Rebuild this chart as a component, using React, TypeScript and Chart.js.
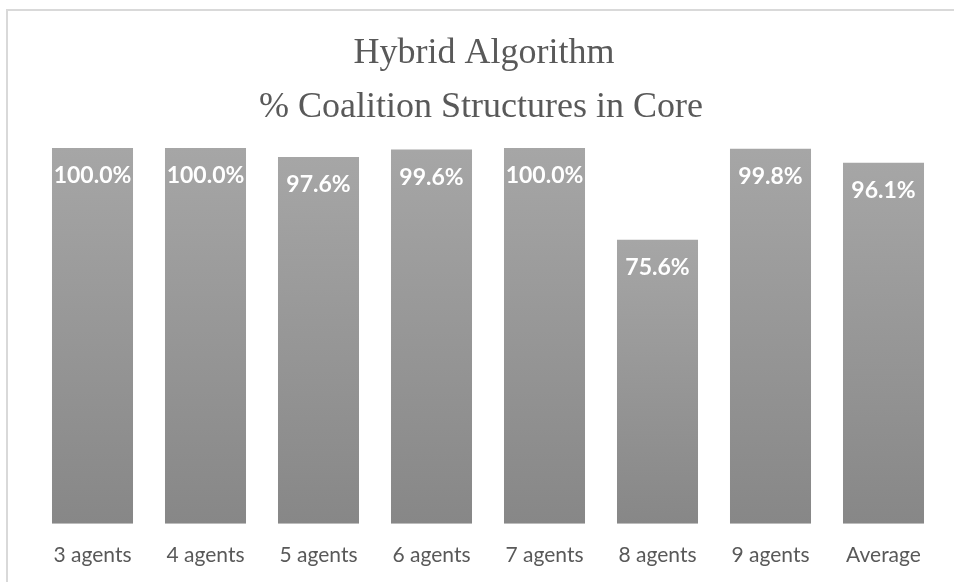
import React, { useEffect, useRef } from "react";
import { Chart, registerables } from "chart.js";

Chart.register(...registerables);

const categories = ["3 agents", "4 agents", "5 agents", "6 agents", "7 agents", "8 agents", "9 agents", "Average"];
const coreValues = [100.0, 100.0, 97.6, 99.6, 100.0, 75.6, 99.8, 96.1];
const titleLines = ["Hybrid Algorithm", "% Coalition Structures in Core"];

const W = 954;
const H = 582;
const CANVAS_H = 602;

export default function App() {
  const ref = useRef<HTMLCanvasElement | null>(null);

  useEffect(() => {
    const canvas = ref.current;
    if (!canvas) return;

    const titlePlugin = {
      id: "customTitle",
      afterDraw(chart: any) {
        const ctx = chart.ctx;
        ctx.save();
        ctx.fillStyle = "#595959";
        ctx.font = '36px "Liberation Serif", "Times New Roman", serif';
        ctx.textAlign = "center";
        ctx.textBaseline = "alphabetic";
        ctx.fillText(titleLines[0], 484, 63);
        ctx.fillText(titleLines[1], 481, 117);
        ctx.restore();
      },
    };

    const labelPlugin = {
      id: "barLabels",
      afterDatasetsDraw(chart: any) {
        const ctx = chart.ctx;
        const meta = chart.getDatasetMeta(0);
        ctx.save();
        ctx.fillStyle = "#ffffff";
        ctx.font = 'bold 23px Lato, "Open Sans", sans-serif';
        ctx.textAlign = "center";
        ctx.textBaseline = "middle";
        meta.data.forEach((el: any, i: number) => {
          const v = chart.data.datasets[0].data[i] as number;
          ctx.fillText(v.toFixed(1) + "%", el.x, el.y + 28);
        });
        ctx.restore();
      },
    };

    const chart = new Chart(canvas, {
      type: "bar",
      data: {
        labels: categories,
        datasets: [
          {
            data: coreValues,
            backgroundColor: (c: any) => {
              const chartObj = c.chart;
              const ys = chartObj.scales && chartObj.scales.y;
              if (!ys || !chartObj.chartArea || c.dataIndex === undefined) return "#999999";
              const top = ys.getPixelForValue(coreValues[c.dataIndex]);
              const bottom = ys.getPixelForValue(0);
              const g = chartObj.ctx.createLinearGradient(0, top, 0, bottom);
              g.addColorStop(0, "#a6a6a6");
              g.addColorStop(1, "#878787");
              return g;
            },
            borderWidth: 0,
            barPercentage: 0.717,
            categoryPercentage: 1,
          },
        ],
      },
      options: {
        responsive: false,
        maintainAspectRatio: false,
        animation: false,
        devicePixelRatio: 1,
        layout: { padding: { top: 148, left: 36, right: 14, bottom: 15 } },
        plugins: {
          legend: { display: false },
          tooltip: { enabled: false },
          title: { display: false },
        },
        scales: {
          x: {
            grid: { display: false, drawTicks: false },
            border: { display: false },
            ticks: {
              color: "#595959",
              font: { family: 'Lato, "Open Sans", sans-serif', size: 21 },
              padding: 19,
              maxRotation: 0,
              autoSkip: false,
            },
          },
          y: {
            display: false,
            min: 0,
            max: 100,
          },
        },
      },
      plugins: [titlePlugin, labelPlugin],
    });

    return () => chart.destroy();
  }, []);

  return (
    <div style={{ position: "fixed", left: 0, top: 0, width: W, height: H, overflow: "hidden", background: "#ffffff" }}>
      <div
        style={{
          position: "absolute",
          left: 6,
          top: 9,
          width: 1200,
          height: 1000,
          border: "2px solid #d9d9d9",
          boxSizing: "border-box",
        }}
      />
      <canvas
        ref={ref}
        width={W}
        height={CANVAS_H}
        style={{ position: "absolute", left: 0, top: 0, width: W, height: CANVAS_H }}
      />
    </div>
  );
}
